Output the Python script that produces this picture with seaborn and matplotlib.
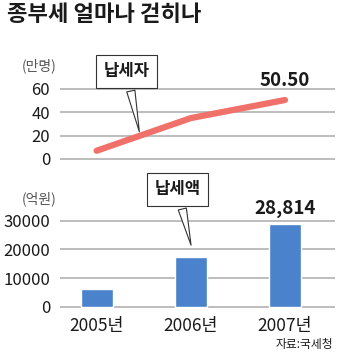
import matplotlib
matplotlib.use("Agg")
import matplotlib.pyplot as plt
import seaborn as sns
import pandas as pd

# =========================
# Data
# =========================

years = ["2005년", "2006년", "2007년"]
taxpayers = [7.0, 35.0, 50.50]        # 만명
tax_amount = [6300, 17400, 28814]     # 억원

sns.set_theme(style="white")
plt.rcParams["font.family"] = ["Noto Sans CJK KR", "DejaVu Sans"]

fig = plt.figure(figsize=(3.4, 3.57), dpi=100)
fig.patch.set_facecolor("white")

ink = "#1a1a1a"
grid_c = "#b8b8b8"
line_c = "#f0706a"
bar_c = "#4a82cc"

xpos = list(range(len(years)))

box_style = dict(boxstyle="square,pad=0.45", fc="white", ec="#333333", lw=0.8)
arrow_style = dict(arrowstyle="wedge,tail_width=0.5,shrink_factor=0.5",
                   fc="white", ec="#333333", lw=0.8)

# =========================
# Title
# =========================

fig.text(0.022, 0.958, "종부세 얼마나 걷히나", fontsize=16, fontweight="bold",
         color=ink, va="center", ha="left")

# =========================
# Top: 납세자 line
# =========================

ax1 = fig.add_axes([0.176, 0.545, 0.809, 0.2157])
df1 = pd.DataFrame({"x": xpos, "v": taxpayers})
sns.lineplot(data=df1, x="x", y="v", ax=ax1, color=line_c, linewidth=4.5,
             solid_capstyle="round", zorder=3)
ax1.set_xlim(-0.39, 2.53)
ax1.set_ylim(-3, 63)
ax1.set_yticks([0, 20, 40, 60])
ax1.set_xticks([])
ax1.yaxis.grid(True, color=grid_c, linewidth=1.3)
for s in ax1.spines.values():
    s.set_visible(False)
ax1.tick_params(axis="y", length=0, pad=7, labelsize=12, labelcolor=ink)
ax1.set_xlabel("")
ax1.set_ylabel("")
ax1.text(-0.14, 1.25, "(만명)", transform=ax1.transAxes, fontsize=10,
         color="#555555", ha="left", va="center")
ax1.text(xpos[2], taxpayers[2] + 17, f"{taxpayers[2]:.2f}", fontsize=13.5,
         fontweight="bold", color=ink, ha="center", va="center")
ax1.annotate("납세자", xy=(0.46, 21), xytext=(0.32, 75),
             fontsize=12, fontweight="bold", color=ink, ha="center", va="center",
             bbox=box_style, arrowprops=arrow_style,
             annotation_clip=False, zorder=5)

# =========================
# Bottom: 납세액 bars
# =========================

ax2 = fig.add_axes([0.176, 0.1384, 0.809, 0.2515])
df2 = pd.DataFrame({"year": years, "v": tax_amount})
sns.barplot(data=df2, x="year", y="v", ax=ax2, color=bar_c, width=0.34,
            saturation=1, zorder=3)
ax2.set_xlim(-0.39, 2.53)
ax2.set_ylim(-300, 31000)
ax2.set_yticks([0, 10000, 20000, 30000])
ax2.yaxis.grid(True, color=grid_c, linewidth=1.3)
ax2.set_axisbelow(True)
for s in ax2.spines.values():
    s.set_visible(False)
ax2.tick_params(axis="y", length=0, pad=7, labelsize=12, labelcolor=ink)
ax2.tick_params(axis="x", length=0, pad=7, labelsize=12.5, labelcolor=ink)
ax2.set_xlabel("")
ax2.set_ylabel("")
ax2.text(-0.14, 1.21, "(억원)", transform=ax2.transAxes, fontsize=10,
         color="#555555", ha="left", va="center")
ax2.text(2, tax_amount[2] + 5600, f"{tax_amount[2]:,}", fontsize=13.5,
         fontweight="bold", color=ink, ha="center", va="center")
ax2.annotate("납세액", xy=(1.01, 20500), xytext=(0.86, 40900),
             fontsize=12, fontweight="bold", color=ink, ha="center", va="center",
             bbox=box_style, arrowprops=arrow_style,
             annotation_clip=False, zorder=5)

fig.text(0.979, 0.034, "자료:국세청", fontsize=8.5, color=ink, ha="right", va="center")

fig.savefig("out.png", dpi=100)
